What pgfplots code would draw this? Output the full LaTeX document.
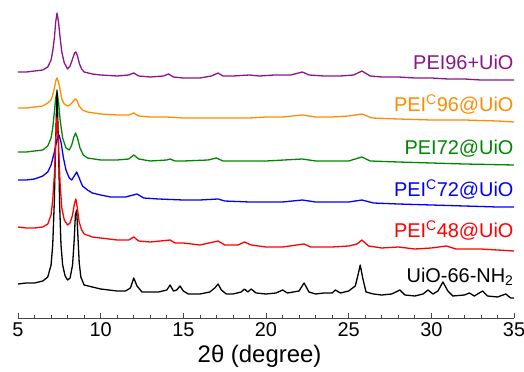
\documentclass[border=0pt]{standalone}
\usepackage{fontspec}
\setmainfont{Liberation Sans}
\usepackage{pgfplots}
\pgfplotsset{compat=1.18}
\definecolor{cpurple}{RGB}{140,20,140}
\definecolor{corange}{RGB}{255,140,0}
\definecolor{cgreen}{RGB}{0,135,0}
\definecolor{cblue}{RGB}{0,0,255}
\definecolor{cred}{RGB}{255,0,0}
\definecolor{caxis}{RGB}{70,70,70}
\begin{document}
\begin{tikzpicture}
\begin{axis}[
  scale only axis, width=496bp, height=313bp,
  xmin=5, xmax=35, ymin=-318, ymax=-5,
  axis x line=bottom, axis y line=none,
  axis line style={caxis, line width=0.8bp, -},
  xtick={5,10,...,35}, minor x tick num=4,
  tick align=inside, major tick length=5bp, minor tick length=3bp,
  tick style={caxis, line width=0.7bp},
  /pgf/number format/assume math mode=true,
  xticklabel style={font=\fontsize{20}{24}\selectfont, yshift=-1bp},
  xlabel={2θ (degree)},
  xlabel style={font=\fontsize{24}{28}\selectfont, at={(axis description cs:0.487,0)}, anchor=base, yshift=-44bp},
  clip=false,
  every axis plot/.append style={line width=1.3bp, line join=round},
  label font/.style={font=\fontsize{20}{24}\selectfont},
]
% purple PEI96+UiO
\addplot[cpurple] coordinates {(5,-72)(5.5,-72)(6,-71)(6.5,-70)(6.8,-67)(7.0,-60)(7.1,-51)(7.2,-38)(7.28,-22)(7.36,-13)(7.45,-22)(7.55,-38)(7.65,-52)(7.8,-63)(8.0,-69)(8.15,-66)(8.3,-59)(8.42,-53)(8.5,-52)(8.6,-56)(8.72,-64)(8.85,-69)(9.0,-72)(9.5,-74)(10,-75)(11,-76)(11.7,-75)(12.0,-73)(12.3,-76)(13,-77)(13.8,-76)(14.1,-74)(14.4,-77)(15,-78)(16,-78)(16.7,-76)(17.1,-73)(17.4,-76)(18,-76)(19,-75)(19.6,-76)(20.5,-75)(21.5,-75)(22.2,-72)(22.6,-75)(23.5,-76)(24.5,-76)(25.3,-75)(25.8,-71)(26.3,-76)(27,-77)(28,-77)(29,-78)(30,-78)(31,-79)(32,-79)(33,-80)(34,-80)(35,-80)};
% orange PEIc96@UiO
\addplot[corange] coordinates {(5,-108)(5.5,-108)(6,-107)(6.5,-106)(6.8,-103)(7.0,-100)(7.1,-95)(7.2,-88)(7.3,-80)(7.36,-78)(7.45,-82)(7.55,-90)(7.65,-99)(7.8,-104)(8.0,-106)(8.15,-105)(8.3,-102)(8.45,-99)(8.55,-100)(8.7,-106)(8.9,-110)(9.2,-112)(10,-114)(11,-115)(11.7,-115)(12.0,-113)(12.3,-116)(13,-117)(14,-117)(15,-118)(17,-118)(19,-118)(20,-117)(21,-117)(22.2,-115)(23,-117)(24,-117)(25,-116)(25.8,-114)(26.4,-118)(28,-119)(30,-120)(32,-120)(34,-121)(35,-122)};
% green PEI72@UiO
\addplot[cgreen] coordinates {(5,-152)(5.5,-152)(6,-151)(6.5,-150)(6.8,-146)(7.0,-138)(7.1,-128)(7.2,-112)(7.28,-98)(7.36,-92)(7.45,-102)(7.55,-120)(7.7,-138)(7.9,-148)(8.1,-150)(8.25,-145)(8.38,-137)(8.48,-133)(8.6,-138)(8.75,-148)(8.95,-155)(9.2,-158)(10,-160)(11,-160)(11.7,-159)(12.0,-155)(12.3,-159)(13,-161)(14,-160)(14.2,-159)(14.5,-161)(15,-161)(16.5,-160)(17,-158)(17.4,-161)(19,-161)(20,-161)(22.2,-159)(23,-161)(24,-161)(25,-161)(25.8,-157)(26.3,-161)(28,-162)(30,-163)(32,-164)(35,-165)};
% blue PEIc72@UiO
\addplot[cblue] coordinates {(5,-180)(5.5,-180)(6,-179)(6.5,-176)(6.8,-172)(7.0,-165)(7.2,-152)(7.35,-140)(7.48,-135)(7.6,-142)(7.75,-158)(7.9,-170)(8.1,-178)(8.25,-180)(8.4,-176)(8.55,-172)(8.7,-178)(8.9,-186)(9.2,-190)(9.5,-193)(10,-195)(10.6,-197)(11.5,-197)(12.2,-194)(12.6,-198)(13.5,-199)(15,-200)(16,-200)(17.1,-199)(17.5,-201)(19,-202)(20,-202)(21,-202)(22.2,-200)(23,-202)(24,-202)(25,-202)(25.8,-200)(26.5,-203)(28,-204)(30,-205)(32,-206)(34,-207)(35,-207)};
% black UiO-66-NH2
\addplot[black] coordinates {(5,-284)(5.5,-283)(6,-283)(6.5,-281)(6.8,-277)(7.0,-265)(7.1,-245)(7.2,-200)(7.28,-140)(7.36,-90)(7.44,-140)(7.52,-205)(7.6,-245)(7.7,-265)(7.85,-276)(8.0,-280)(8.15,-278)(8.3,-265)(8.4,-240)(8.47,-215)(8.55,-210)(8.62,-235)(8.7,-262)(8.8,-277)(9.0,-285)(9.5,-287)(10,-289)(10.5,-290)(11,-291)(11.5,-291)(11.8,-288)(12.0,-278)(12.2,-286)(12.5,-292)(13,-292)(13.5,-292)(14.0,-290)(14.2,-285)(14.4,-291)(14.6,-290)(14.8,-286)(15.0,-291)(15.3,-294)(16,-294)(16.6,-292)(16.9,-288)(17.1,-284)(17.3,-290)(17.6,-294)(18,-294)(18.5,-292)(18.7,-289)(18.9,-292)(19.1,-289)(19.4,-293)(20,-294)(20.6,-293)(21.0,-290)(21.3,-293)(22.0,-291)(22.3,-283)(22.6,-292)(23,-294)(23.5,-293)(24.0,-293)(24.2,-290)(24.5,-293)(25.0,-291)(25.4,-286)(25.55,-276)(25.7,-265)(25.85,-278)(26.05,-292)(26.5,-294)(27,-295)(27.6,-294)(28.1,-290)(28.4,-295)(29,-296)(29.5,-294)(29.8,-290)(30.1,-294)(30.4,-291)(30.7,-282)(31.0,-291)(31.3,-296)(32,-295)(32.3,-293)(32.6,-296)(33.1,-291)(33.4,-296)(34,-297)(34.5,-294)(34.8,-298)(35,-298)};
% red PEIc48@UiO
\addplot[cred] coordinates {(5,-227)(5.5,-228)(6,-228)(6.5,-227)(6.8,-224)(7.0,-215)(7.1,-200)(7.2,-175)(7.28,-140)(7.36,-117)(7.45,-145)(7.55,-185)(7.65,-208)(7.8,-220)(8.0,-225)(8.15,-223)(8.3,-215)(8.42,-203)(8.5,-199)(8.58,-207)(8.7,-222)(8.85,-230)(9.0,-234)(9.5,-237)(10,-238)(11,-240)(11.7,-240)(12.0,-237)(12.3,-241)(13,-242)(14.2,-240)(14.5,-243)(15,-243)(16,-245)(17.1,-241)(17.5,-245)(18.3,-245)(18.7,-242)(19.1,-245)(20,-247)(21,-247)(22.3,-244)(22.7,-247)(24,-247)(25,-246)(25.5,-244)(25.8,-240)(26.2,-246)(27,-248)(28,-247)(29,-249)(30,-248)(30.9,-246)(31.5,-249)(33,-249)(34,-250)(35,-251)};
% labels
\node[anchor=base east, text=cpurple, font=\fontsize{20}{24}\selectfont] at (axis cs:35.18,-70) {PEI96+UiO};
\node[anchor=base east, text=corange, font=\fontsize{20}{24}\selectfont] at (axis cs:35.18,-112) {PEI\textsuperscript{C}96@UiO};
\node[anchor=base east, text=cgreen, font=\fontsize{20}{24}\selectfont] at (axis cs:35.18,-155) {PEI72@UiO};
\node[anchor=base east, text=cblue, font=\fontsize{20}{24}\selectfont] at (axis cs:35.18,-197) {PEI\textsuperscript{C}72@UiO};
\node[anchor=base east, text=cred, font=\fontsize{20}{24}\selectfont] at (axis cs:35.18,-238) {PEI\textsuperscript{C}48@UiO};
\node[anchor=base east, text=black, font=\fontsize{20}{24}\selectfont] at (axis cs:35.18,-282) {UiO-66-NH\textsubscript{2}};
\end{axis}
\pgfresetboundingbox
\useasboundingbox (-18bp,-54bp) rectangle (506bp,318bp);
\end{tikzpicture}
\end{document}
